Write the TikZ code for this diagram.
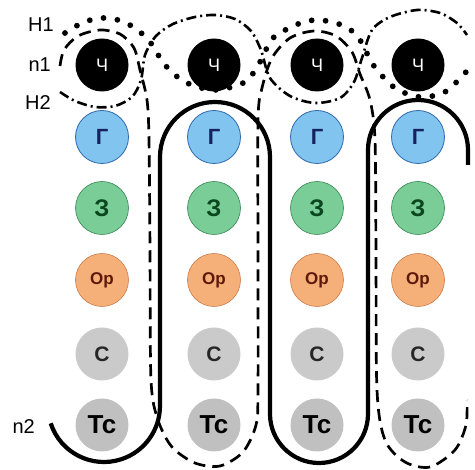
\documentclass[tikz,border=0pt]{standalone}
\usepackage{fontspec}
\setmainfont{Liberation Sans}
\usepackage{tikz}
\definecolor{gfill}{RGB}{130,196,240}
\definecolor{gdraw}{RGB}{45,105,170}
\definecolor{gtext}{RGB}{20,35,95}
\definecolor{zfill}{RGB}{122,205,150}
\definecolor{zdraw}{RGB}{55,135,85}
\definecolor{ztext}{RGB}{10,70,30}
\definecolor{opfill}{RGB}{245,176,122}
\definecolor{opdraw}{RGB}{205,125,75}
\definecolor{optext}{RGB}{95,25,10}
\definecolor{cfill}{RGB}{202,202,202}

\begin{document}
\begin{tikzpicture}[x=1pt,y=-1pt,
    base/.style={circle,minimum size=53pt,inner sep=0pt,font=\bfseries},
    chnode/.style={base,fill=black,text=white,font=\fontsize{18}{18}\selectfont},
    gnode/.style={base,fill=gfill,draw=gdraw,line width=0.8pt,text=gtext,font=\bfseries\fontsize{22}{22}\selectfont},
    znode/.style={base,fill=zfill,draw=zdraw,line width=0.6pt,text=ztext,font=\bfseries\fontsize{24}{24}\selectfont},
    opnode/.style={base,fill=opfill,draw=opdraw,line width=0.6pt,text=optext,font=\bfseries\fontsize{17}{17}\selectfont},
    cnode/.style={base,fill=cfill,text=black!85,font=\bfseries\fontsize{21}{21}\selectfont},
    tsnode/.style={base,fill=cfill!95!black,text=black,font=\bfseries\fontsize{26}{26}\selectfont},
    lbl/.style={anchor=east,inner sep=0pt,font=\fontsize{20}{20}\selectfont},
    n2line/.style={line width=4.2pt},
    n1line/.style={line width=2.7pt,dash pattern=on 12pt off 7pt},
    h1line/.style={line width=5.8pt,line cap=round,dash pattern=on 0pt off 14pt},
    h2line/.style={line width=2.6pt,dash pattern=on 10pt off 4pt on 2pt off 4pt}]
    \useasboundingbox (0,0) rectangle (475,470);

    % Bases in four columns
    \foreach \c/\x in {1/102,2/214,3/317,4/418} {
        \node[chnode] (ch\c) at (\x,65) {Ч};
        \node[gnode] (g\c) at (\x,137) {Г};
        \node[znode] (z\c) at (\x,208) {З};
        \node[opnode] (op\c) at (\x,280) {Ор};
        \node[cnode] (c\c) at (\x,354) {С};
        \node[tsnode] (ts\c) at (\x,425) {Тс};
    }

    % Labels
    \node[lbl] (h1) at (54,25) {H1};
    \node[lbl] (n1) at (51,65) {n1};
    \node[lbl] (h2) at (51,103) {H2};
    \node[lbl] (n2) at (35,427) {n2};

    % Solid strand
    \draw[n2line] (50.7,423.3) arc[start angle=162,end angle=0,radius=56]
        -- (160,157) arc[start angle=180,end angle=360,radius=55]
        -- (270,414) arc[start angle=180,end angle=0,radius=49]
        -- (368,150) arc[start angle=180,end angle=360,radius=50]
        -- (468,165);

    % Dashed strand
    \draw[n1line] plot[smooth] coordinates {(60,66) (64,50) (78,36) (100,30) (120,34)
        (134,48) (140,70) (147,100) (149,140) (150,250) (151,380) (158,420) (172,447)
        (195,463) (220,466) (243,452) (256,425) (258,390) (258,250) (258,120) (262,88)
        (272,58) (290,38) (314,31) (336,36) (352,52) (360,74) (370,100) (375,140)
        (376,250) (377,390) (385,440) (405,462) (430,467) (455,450) (466,425) (467,400)};

    % Dotted line H1
    \draw[h1line] plot[smooth] coordinates {(65,33) (82,23) (100,18) (118,20) (135,28)
        (150,42) (165,65) (185,82) (214,90) (245,82) (260,62) (273,38) (298,24) (315,20)
        (332,22) (348,28) (360,40) (374,66) (395,88) (420,97) (445,92) (466,72)};

    % Dash-dot line H2
    \draw[h2line] plot[smooth] coordinates {(60,92) (75,101) (95,107) (115,106) (132,97)
        (141,80) (145,55) (156,36) (173,24) (195,17) (215,15) (235,19) (251,31) (261,50)
        (270,78) (290,96) (315,103) (340,98) (354,82) (362,58) (372,30) (390,17) (417,10)
        (440,13) (457,23) (467,35)};
\end{tikzpicture}
\end{document}
